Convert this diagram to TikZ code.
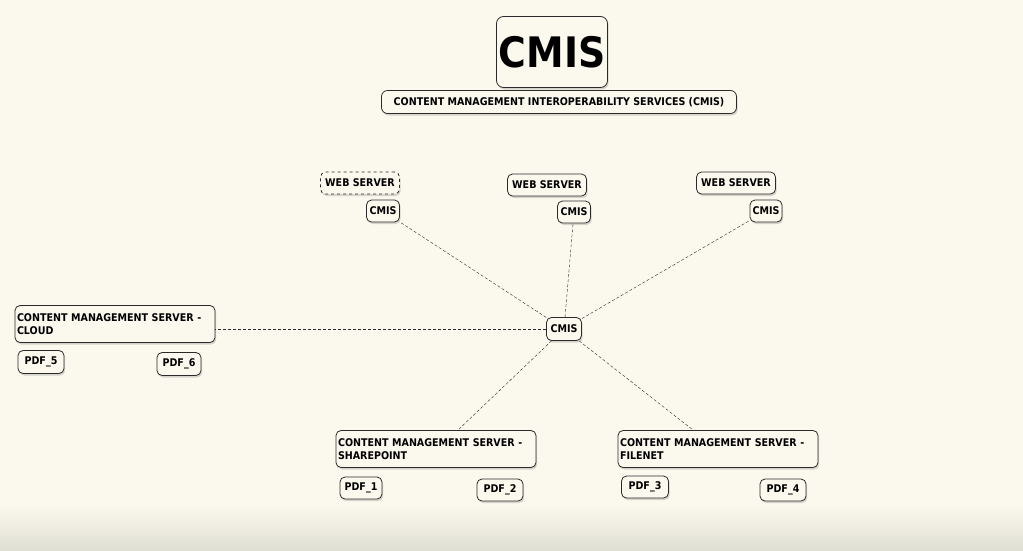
\documentclass[tikz,border=0pt]{standalone}
\usepackage{fontspec}
\setmainfont{DejaVu Sans Condensed}
\usetikzlibrary{shadows}
\definecolor{paper}{HTML}{FBF9EE}
\definecolor{paperlow}{HTML}{E0DFD4}
\definecolor{ink}{HTML}{2A2A2A}
\begin{document}
\begin{tikzpicture}
[
x=1pt, y=-1pt,
cmisbox/.style={draw=ink, thick, rounded corners=5pt, fill=paper, inner sep=1pt,
  drop shadow={opacity=0.3, shadow xshift=1.2pt, shadow yshift=-2pt},
  font=\bfseries\fontsize{10.6}{13}\selectfont},
serverbox/.style={cmisbox, text width=196pt, align=left, minimum height=37pt, inner sep=2pt},
link/.style={densely dashed, ink, thin}
]
%Background
\fill[paper] (0,0) rectangle (1023,505);
\shade[top color=paper, bottom color=paperlow] (0,505) rectangle (1023,550);
\useasboundingbox (0,0) rectangle (1023,550);
%Title
\node[cmisbox, minimum width=111pt, minimum height=71pt, rounded corners=7pt, font=\bfseries\fontsize{42}{44}\selectfont] at(552,52) (title) {CMIS};
\node[cmisbox, minimum width=355pt, minimum height=23pt, rounded corners=6pt] at(559,102) (subtitle) {CONTENT MANAGEMENT INTEROPERABILITY SERVICES (CMIS)};
%Web servers
\node[cmisbox, dashed, minimum width=79pt, minimum height=22pt] at(360,183) (ws1) {WEB SERVER};
\node[cmisbox, minimum width=33pt, minimum height=22pt] at(383,211) (c1) {CMIS};
\node[cmisbox, minimum width=79pt, minimum height=22pt] at(547,185) (ws2) {WEB SERVER};
\node[cmisbox, minimum width=33pt, minimum height=22pt] at(574,212) (c2) {CMIS};
\node[cmisbox, minimum width=79pt, minimum height=22pt] at(736,183) (ws3) {WEB SERVER};
\node[cmisbox, minimum width=32pt, minimum height=22pt] at(766,211) (c3) {CMIS};
%Hub
\node[cmisbox, minimum width=35pt, minimum height=23pt] at(564,329) (hub) {CMIS};
%Content servers
\node[serverbox] at(115,324) (cloud) {CONTENT MANAGEMENT SERVER -\\CLOUD};
\node[cmisbox, minimum width=46pt, minimum height=23pt] at(41,362) (pdf5) {PDF\_5};
\node[cmisbox, minimum width=44pt, minimum height=23pt] at(179,364) (pdf6) {PDF\_6};
\node[serverbox] at(436,449) (sharepoint) {CONTENT MANAGEMENT SERVER -\\SHAREPOINT};
\node[cmisbox, minimum width=42pt, minimum height=22pt] at(361,488) (pdf1) {PDF\_1};
\node[cmisbox, minimum width=46pt, minimum height=22pt] at(500,490) (pdf2) {PDF\_2};
\node[serverbox] at(718,449) (filenet) {CONTENT MANAGEMENT SERVER -\\FILENET};
\node[cmisbox, minimum width=47pt, minimum height=22pt] at(645,487) (pdf3) {PDF\_3};
\node[cmisbox, minimum width=46pt, minimum height=22pt] at(783,490) (pdf4) {PDF\_4};
%Links
\coordinate (spin) at(458,430);
\coordinate (fnin) at(693,430);
\draw[link] (hub) -- (c1);
\draw[link] (hub) -- (c2);
\draw[link] (hub) -- (c3);
\draw[link] (hub) -- (cloud.east |- hub.west);
\draw[link] (hub) -- (spin);
\draw[link] (hub) -- (fnin);
\end{tikzpicture}
\end{document}
